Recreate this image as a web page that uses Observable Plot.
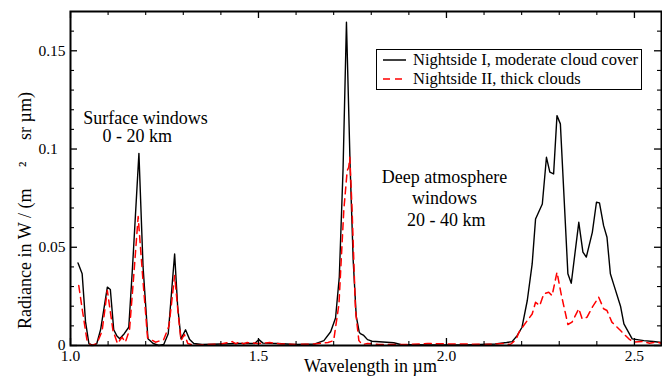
<!DOCTYPE html>
<html>
<head>
<meta charset="utf-8">
<script src="https://cdn.jsdelivr.net/npm/d3@7"></script>
<script src="https://cdn.jsdelivr.net/npm/@observablehq/plot@0.6"></script>
<style>
  body { margin: 0; background: #fff; }
  #wrap { position: relative; width: 662px; height: 382px; font-family: "Liberation Serif", "Times New Roman", serif; }
  #legend { position: absolute; left: 376px; top: 49px; width: 264px; height: 39px; border: 1.5px solid #000; background: #fff; font-size: 16.5px; color: #000; }
  .row { position: absolute; left: 0; height: 19px; line-height: 19px; white-space: nowrap; }
  .row svg { position: absolute; left: 6px; top: 5px; }
  .row span { position: absolute; left: 36px; top: 0; }
</style>
</head>
<body>
<div id="wrap"></div>
<script>
// Nightside I, moderate cloud cover (black solid)
const wavelengthI = [1.020,1.031,1.040,1.049,1.060,1.070,1.080,1.090,1.098,1.106,1.115,1.123,1.131,1.143,1.155,1.165,1.182,1.193,1.206,1.220,1.235,1.248,1.260,1.270,1.277,1.285,1.294,1.306,1.317,1.328,1.350,1.400,1.450,1.490,1.501,1.512,1.550,1.600,1.650,1.674,1.692,1.705,1.715,1.725,1.734,1.744,1.752,1.760,1.768,1.771,1.780,1.790,1.802,1.860,1.878,1.950,2.050,2.130,2.160,2.175,2.188,2.201,2.215,2.228,2.237,2.255,2.266,2.275,2.285,2.294,2.303,2.323,2.332,2.352,2.363,2.372,2.388,2.399,2.407,2.418,2.427,2.436,2.445,2.463,2.472,2.494,2.525,2.550,2.572];
const radianceI = [0.0420,0.0365,0.0120,0.0010,0.0000,0.0010,0.0080,0.0200,0.0297,0.0285,0.0080,0.0050,0.0034,0.0060,0.0093,0.0400,0.0978,0.0400,0.0034,0.0010,0.0000,0.0005,0.0060,0.0300,0.0466,0.0200,0.0034,0.0080,0.0030,0.0010,0.0005,0.0008,0.0010,0.0010,0.0030,0.0012,0.0010,0.0005,0.0008,0.0025,0.0070,0.0140,0.0350,0.0900,0.1645,0.0900,0.0430,0.0150,0.0068,0.0060,0.0051,0.0030,0.0022,0.0014,0.0005,0.0003,0.0003,0.0008,0.0015,0.0020,0.0050,0.0093,0.0229,0.0415,0.0644,0.0720,0.0958,0.0882,0.0873,0.1170,0.1128,0.0365,0.0317,0.0627,0.0475,0.0450,0.0576,0.0729,0.0726,0.0610,0.0551,0.0365,0.0310,0.0200,0.0110,0.0034,0.0025,0.0020,0.0015];

// Nightside II, thick clouds (red dashed)
const wavelengthII = [1.022,1.030,1.038,1.044,1.055,1.070,1.084,1.098,1.113,1.125,1.137,1.146,1.157,1.168,1.180,1.192,1.205,1.226,1.248,1.262,1.277,1.287,1.294,1.303,1.312,1.330,1.360,1.400,1.430,1.440,1.450,1.460,1.470,1.500,1.530,1.560,1.600,1.650,1.685,1.700,1.714,1.727,1.736,1.740,1.743,1.749,1.758,1.767,1.776,1.790,1.820,1.900,1.950,2.000,2.050,2.100,2.150,2.170,2.185,2.193,2.215,2.228,2.237,2.248,2.259,2.272,2.281,2.294,2.305,2.323,2.334,2.352,2.361,2.374,2.388,2.405,2.418,2.427,2.440,2.463,2.485,2.498,2.520,2.540,2.560,2.572];
const radianceII = [0.0305,0.0200,0.0100,0.0025,0.0000,0.0010,0.0073,0.0280,0.0076,0.0010,0.0042,0.0017,0.0080,0.0350,0.0656,0.0350,0.0040,0.0017,0.0030,0.0100,0.0356,0.0150,0.0025,0.0056,0.0010,0.0000,0.0005,0.0008,0.0020,0.0008,0.0020,0.0008,0.0015,0.0010,0.0015,0.0008,0.0005,0.0008,0.0015,0.0025,0.0210,0.0690,0.0890,0.0907,0.0958,0.0690,0.0180,0.0025,0.0005,0.0010,0.0005,0.0005,0.0010,0.0008,0.0008,0.0005,0.0010,0.0005,0.0030,0.0068,0.0127,0.0160,0.0220,0.0203,0.0263,0.0271,0.0254,0.0373,0.0263,0.0107,0.0119,0.0187,0.0136,0.0144,0.0195,0.0246,0.0187,0.0178,0.0119,0.0076,0.0034,0.0017,0.0020,0.0012,0.0018,0.0010];

const seriesNames = ["Nightside I, moderate cloud cover", "Nightside II, thick clouds"];
const seriesColors = ["#000000", "#ff0000"];

const xMajorTicks = [1.0, 1.5, 2.0, 2.5];
const xMinorTicks = [1.1, 1.2, 1.3, 1.4, 1.6, 1.7, 1.8, 1.9, 2.1, 2.2, 2.3, 2.4];
const yMajorTicks = [0, 0.05, 0.1, 0.15];
const yMinorTicks = [0.01, 0.02, 0.03, 0.04, 0.06, 0.07, 0.08, 0.09, 0.11, 0.12, 0.13, 0.14, 0.16];
const xTickLabels = ["1.0", "1.5", "2.0", "2.5"];
const yTickLabels = ["0", "0.05", "0.1\u2007", "0.15"];

const dataI = wavelengthI.map((w, i) => ({w, r: radianceI[i]}));
const dataII = wavelengthII.map((w, i) => ({w, r: radianceII[i]}));

const W = 662, H = 382, mL = 70, mR = 1, mT = 11, mB = 37;
const plotH = H - mT - mB;
const plotW = W - mL - mR;
const majorLen = 7, minorLen = 4;

const chart = Plot.plot({
  width: W, height: H,
  marginLeft: mL, marginRight: mR, marginTop: mT, marginBottom: mB,
  style: {fontFamily: "'Liberation Serif', 'Times New Roman', serif", fontSize: "15.5px", background: "#fff", color: "#000", overflow: "visible"},
  x: {domain: [1.0, 2.572], label: null},
  y: {domain: [0, 0.17], label: null},
  marks: [
    Plot.line(dataI, {x: "w", y: "r", stroke: seriesColors[0], strokeWidth: 1.4}),
    Plot.line(dataII, {x: "w", y: "r", stroke: seriesColors[1], strokeWidth: 1.5, strokeDasharray: "7,5"}),
    // inward ticks, bottom & top
    Plot.tickX(xMajorTicks, {x: d => d, insetTop: plotH - majorLen, strokeWidth: 1.3}),
    Plot.tickX(xMinorTicks, {x: d => d, insetTop: plotH - minorLen, strokeWidth: 1.1}),
    Plot.tickX(xMajorTicks, {x: d => d, insetBottom: plotH - majorLen, strokeWidth: 1.3}),
    Plot.tickX(xMinorTicks, {x: d => d, insetBottom: plotH - minorLen, strokeWidth: 1.1}),
    // inward ticks, left & right
    Plot.tickY(yMajorTicks, {y: d => d, insetRight: plotW - majorLen, strokeWidth: 1.3}),
    Plot.tickY(yMinorTicks, {y: d => d, insetRight: plotW - minorLen, strokeWidth: 1.1}),
    Plot.tickY(yMajorTicks, {y: d => d, insetLeft: plotW - majorLen, strokeWidth: 1.3}),
    Plot.tickY(yMinorTicks, {y: d => d, insetLeft: plotW - minorLen, strokeWidth: 1.1}),
    Plot.axisX({ticks: xMajorTicks, tickFormat: (d, i) => xTickLabels[i], tickSize: 0, tickPadding: 4, label: null, fontSize: 15.5}),
    Plot.axisY({ticks: yMajorTicks, tickFormat: (d, i) => yTickLabels[i], tickSize: 0, tickPadding: 5, label: null, fontSize: 15.5}),
    Plot.frame({strokeWidth: 2}),
    // annotations
    Plot.text(["Surface windows"], {x: 1.1995, y: 0.1158, fontSize: 18, textAnchor: "middle"}),
    Plot.text(["0 - 20 km"], {x: 1.1774, y: 0.1064, fontSize: 18, textAnchor: "middle"}),
    Plot.text(["Deep atmosphere"], {x: 1.9947, y: 0.0858, fontSize: 18, textAnchor: "middle"}),
    Plot.text(["windows"], {x: 1.9950, y: 0.0751, fontSize: 18, textAnchor: "middle"}),
    Plot.text(["20 - 40 km"], {x: 1.9995, y: 0.0640, fontSize: 18, textAnchor: "middle"}),
    // axis titles
    Plot.text(["Wavelength in \u00b5m"], {frameAnchor: "bottom", textAnchor: "middle", dx: 4.5, dy: 26, fontSize: 18}),
    Plot.text(["Radiance in W / (m\u2003\u2009\u00b2\u2003\u2009sr \u00b5m)"], {frameAnchor: "left", textAnchor: "middle", rotate: -90, dx: -45, dy: 32, fontSize: 18})
  ]
});

const wrap = document.getElementById("wrap");
wrap.appendChild(chart);

// legend overlay
const legend = document.createElement("div");
legend.id = "legend";
seriesNames.forEach((name, i) => {
  const row = document.createElement("div");
  row.className = "row";
  row.style.top = (i * 19) + "px";
  const dash = i === 1 ? ' stroke-dasharray="7,5"' : '';
  row.innerHTML = `<svg width="24" height="10"><line x1="0" x2="23" y1="5" y2="5" stroke="${seriesColors[i]}" stroke-width="1.5"${dash}/></svg><span>${name}</span>`;
  legend.appendChild(row);
});
wrap.appendChild(legend);
</script>
</body>
</html>
